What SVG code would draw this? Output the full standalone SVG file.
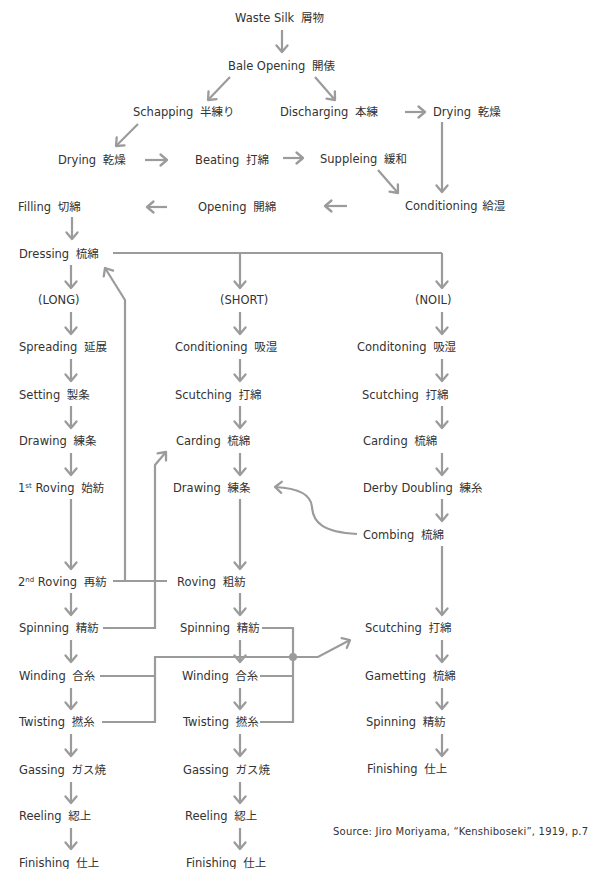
<svg xmlns="http://www.w3.org/2000/svg" width="595" height="869" viewBox="0 0 595 869">
<defs>
<style>
text{font-family:"DejaVu Sans","Noto Sans CJK JP",sans-serif;font-size:11.5px;fill:#333;}
.src{font-size:10px;}
.j{font-size:11.5px;}
.c{fill:none;stroke:#9b9b9b;stroke-width:2.2;}
.a{fill:none;stroke:#9b9b9b;stroke-width:2.2;marker-end:url(#ah);}
</style>
<marker id="ah" viewBox="-9 -8 11 16" refX="0" refY="0" markerWidth="11" markerHeight="16" markerUnits="userSpaceOnUse" orient="auto">
<path d="M-6.5,-5.5 L0,0 L-6.5,5.5" fill="none" stroke="#9b9b9b" stroke-width="2.3" stroke-linecap="round" stroke-linejoin="round"/>
</marker>
</defs>
<rect width="595" height="869" fill="#fff"/>
<g id="connectors">
<path class="a" d="M282,30 V52"/>
<path class="a" d="M230,77 L208,100"/>
<path class="a" d="M315,77 L335,100"/>
<path class="a" d="M405,112 H425"/>
<path class="a" d="M138,124 L116,146"/>
<path class="a" d="M145,160 H167"/>
<path class="a" d="M283,158 H303"/>
<path class="a" d="M378,170 L398,193"/>
<path class="a" d="M442,122 V192"/>
<path class="a" d="M347,206 H325"/>
<path class="a" d="M167,207 H147"/>
<path class="a" d="M72,217 V239"/>
<path class="c" d="M113,253 H442"/>
<path class="a" d="M240,253 V288"/>
<path class="a" d="M442,253 V288"/>
<path class="a" d="M71,265 V288"/>
<path class="a" d="M71,312 V334"/><path class="a" d="M71,359 V381"/><path class="a" d="M71,406 V428"/><path class="a" d="M71,453 V475"/><path class="a" d="M71,499 V569"/><path class="a" d="M71,593 V615"/><path class="a" d="M71,640 V662"/><path class="a" d="M71,688 V709"/><path class="a" d="M71,734 V756"/><path class="a" d="M71,782 V803"/><path class="a" d="M71,828 V849"/>
<path class="a" d="M240,312 V334"/><path class="a" d="M240,359 V381"/><path class="a" d="M240,406 V428"/><path class="a" d="M240,453 V475"/><path class="a" d="M240,499 V569"/><path class="a" d="M240,593 V615"/><path class="a" d="M240,640 V662"/><path class="a" d="M240,688 V709"/><path class="a" d="M240,734 V756"/><path class="a" d="M240,782 V803"/><path class="a" d="M240,828 V849"/>
<path class="a" d="M442,312 V334"/><path class="a" d="M442,359 V381"/><path class="a" d="M442,406 V428"/><path class="a" d="M442,453 V475"/><path class="a" d="M442,499 V521"/><path class="a" d="M442,546 V615"/><path class="a" d="M442,640 V662"/><path class="a" d="M442,688 V709"/><path class="a" d="M442,734 V756"/>
<path class="c" d="M113,581 H167"/>
<path class="a" d="M125,581 V300 L105,268"/>
<path class="a" d="M103,628 H155 V465 L166,452"/>
<path class="a" d="M357,534 C322,532 313,522 312,507 C311,493 296,488 275,487"/>
<path class="c" d="M262,628 H293 V722 H260"/>
<path class="c" d="M260,676 H293"/>
<path class="c" d="M100,676 H155"/>
<path class="a" d="M102,722 H155 V657 H318 L350,640"/>
<circle cx="293" cy="657" r="4" fill="#9b9b9b"/>
</g>
<g id="n-waste"><text x="235" y="22">Waste Silk <tspan dx="3">屑物</tspan></text></g>
<g id="n-bale"><text x="228" y="70">Bale Opening <tspan dx="3">開俵</tspan></text></g>
<g id="n-schapping"><text x="133" y="116">Schapping <tspan dx="3">半練り</tspan></text></g>
<g id="n-discharging"><text x="280" y="116">Discharging <tspan dx="3">本練</tspan></text></g>
<g id="n-drying2"><text x="433" y="116">Drying <tspan dx="3">乾燥</tspan></text></g>
<g id="n-drying1"><text x="58" y="164">Drying <tspan dx="3">乾燥</tspan></text></g>
<g id="n-beating"><text x="195" y="164">Beating <tspan dx="3">打綿</tspan></text></g>
<g id="n-suppleing"><text x="320" y="163">Suppleing <tspan dx="3">緩和</tspan></text></g>
<g id="n-filling"><text x="18" y="211">Filling <tspan dx="3">切綿</tspan></text></g>
<g id="n-opening"><text x="198" y="211">Opening <tspan dx="3">開綿</tspan></text></g>
<g id="n-conditioning0"><text x="405" y="210">Conditioning <tspan dx="1">給湿</tspan></text></g>
<g id="n-dressing"><text x="19" y="258">Dressing <tspan dx="3">梳綿</tspan></text></g>
<g id="n-long"><text x="38" y="304">(LONG)</text></g>
<g id="n-short"><text x="220" y="304">(SHORT)</text></g>
<g id="n-noil"><text x="415" y="304">(NOIL)</text></g>
<g id="n-spreading"><text x="19" y="351">Spreading <tspan dx="3">延展</tspan></text></g>
<g id="n-cond-s"><text x="175" y="351">Conditioning <tspan dx="3">吸湿</tspan></text></g>
<g id="n-cond-n"><text x="357" y="351">Conditoning <tspan dx="3">吸湿</tspan></text></g>
<g id="n-setting"><text x="19" y="399">Setting <tspan dx="3">製条</tspan></text></g>
<g id="n-scutch-s"><text x="175" y="399">Scutching <tspan dx="3">打綿</tspan></text></g>
<g id="n-scutch-n"><text x="362" y="399">Scutching <tspan dx="3">打綿</tspan></text></g>
<g id="n-drawing-l"><text x="19" y="445">Drawing <tspan dx="3">練条</tspan></text></g>
<g id="n-carding-s"><text x="176" y="445">Carding <tspan dx="3">梳綿</tspan></text></g>
<g id="n-carding-n"><text x="363" y="445">Carding <tspan dx="3">梳綿</tspan></text></g>
<g id="n-roving1"><text x="18" y="492">1<tspan font-size="7" dy="-4">st</tspan><tspan dy="4"> Roving </tspan><tspan dx="3">始紡</tspan></text></g>
<g id="n-drawing-s"><text x="173" y="492">Drawing <tspan dx="3">練条</tspan></text></g>
<g id="n-derby"><text x="363" y="492">Derby Doubling <tspan dx="3">練糸</tspan></text></g>
<g id="n-combing"><text x="363" y="539">Combing <tspan dx="3">梳綿</tspan></text></g>
<g id="n-roving2"><text x="18" y="586">2<tspan font-size="7" dy="-4">nd</tspan><tspan dy="4"> Roving </tspan><tspan dx="3">再紡</tspan></text></g>
<g id="n-roving-s"><text x="177" y="586">Roving <tspan dx="3">粗紡</tspan></text></g>
<g id="n-spin-l"><text x="19" y="632">Spinning <tspan dx="3">精紡</tspan></text></g>
<g id="n-spin-s"><text x="180" y="632">Spinning <tspan dx="3">精紡</tspan></text></g>
<g id="n-scutch-n2"><text x="365" y="632">Scutching <tspan dx="3">打綿</tspan></text></g>
<g id="n-wind-l"><text x="19" y="680">Winding <tspan dx="3">合糸</tspan></text></g>
<g id="n-wind-s"><text x="182" y="680">Winding <tspan dx="3">合糸</tspan></text></g>
<g id="n-gametting"><text x="365" y="680">Gametting <tspan dx="3">梳綿</tspan></text></g>
<g id="n-twist-l"><text x="19" y="726">Twisting <tspan dx="3">撚糸</tspan></text></g>
<g id="n-twist-s"><text x="183" y="726">Twisting <tspan dx="3">撚糸</tspan></text></g>
<g id="n-spin-n"><text x="366" y="726">Spinning <tspan dx="3">精紡</tspan></text></g>
<g id="n-gas-l"><text x="19" y="774">Gassing <tspan dx="3">ガス焼</tspan></text></g>
<g id="n-gas-s"><text x="183" y="774">Gassing <tspan dx="3">ガス焼</tspan></text></g>
<g id="n-fin-n"><text x="367" y="773">Finishing <tspan dx="3">仕上</tspan></text></g>
<g id="n-reel-l"><text x="19" y="820">Reeling <tspan dx="3">綛上</tspan></text></g>
<g id="n-reel-s"><text x="185" y="820">Reeling <tspan dx="3">綛上</tspan></text></g>
<g id="n-fin-l"><text x="19" y="867">Finishing <tspan dx="3">仕上</tspan></text></g>
<g id="n-fin-s"><text x="186" y="867">Finishing <tspan dx="3">仕上</tspan></text></g>
<g id="source"><text class="src" x="333" y="835" textLength="255" lengthAdjust="spacing">Source: Jiro Moriyama, “Kenshiboseki”, 1919, p.7</text></g>
</svg>
